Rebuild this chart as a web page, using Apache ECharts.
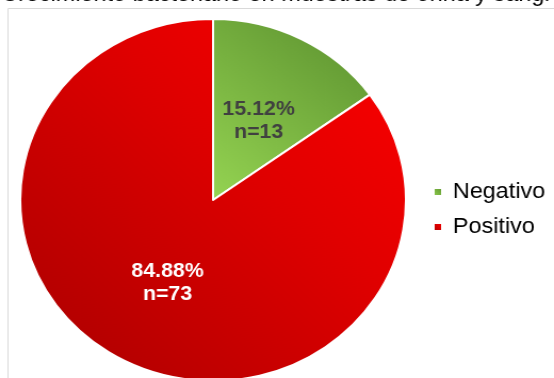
<!DOCTYPE html>
<html><head><meta charset="utf-8">
<script src="https://cdn.jsdelivr.net/npm/echarts@6/dist/echarts.min.js"></script>
<style>html,body{margin:0;padding:0;background:#fff;overflow:hidden;width:554px;height:378px}
#c{width:520px;height:378px;transform:scaleX(1.0654);transform-origin:0 0}</style>
</head><body><div id="c"></div>
<script>
const categories = ['Negativo', 'Positivo'];
const counts = [13, 73];
const percents = ['15.12%', '84.88%'];
const titleText = 'Crecimiento bacteriano en muestras de orina y sangre';

const chart = echarts.init(document.getElementById('c'));
const grads = [
  new echarts.graphic.LinearGradient(0, 1, 1, 0, [{offset:0,color:'#95d452'},{offset:1,color:'#5a8f2e'}]),
  new echarts.graphic.LinearGradient(0, 1, 1, 0, [{offset:0,color:'#a80000'},{offset:0.6,color:'#e00000'},{offset:1,color:'#ff0000'}])
];
const labelColors = ['#404040', '#ffffff'];
const labelOffsets = [[0, 4], [0, 0]];
chart.setOption({
  animation: false,
  title: {text: titleText, left: -4, top: -21.5, textStyle:{fontFamily:'Liberation Sans', fontSize:22, color:'#000', fontWeight:'normal'}},
  graphic: [{type:'rect', shape:{x:7.5,y:8.5,width:600,height:400}, style:{fill:'none', stroke:'#d9d9d9', lineWidth:1}, z:-1}],
  legend: {
    orient:'vertical', left: 401, top: 176, itemWidth: 8, itemHeight: 8, itemGap: 13,
    icon:'rect',
    textStyle:{fontFamily:'Liberation Sans', fontSize:22, color:'#000', padding:[0,0,0,5]},
    data: categories
  },
  series: [{
    type:'pie', center:[200,200], radius:[0,181], startAngle:90, clockwise:true,
    itemStyle:{borderColor:'#fff', borderWidth:2},
    label:{show:true, position:'inner', fontFamily:'Liberation Sans', fontSize:20, fontWeight:'bold', lineHeight:23},
    labelLine:{show:false},
    data: categories.map((c,i)=>({
      name:c, value:counts[i],
      itemStyle:{color:grads[i]},
      label:{color:labelColors[i], offset: labelOffsets[i], formatter: percents[i] + '\nn=' + counts[i]}
    }))
  }]
});
</script></body></html>
